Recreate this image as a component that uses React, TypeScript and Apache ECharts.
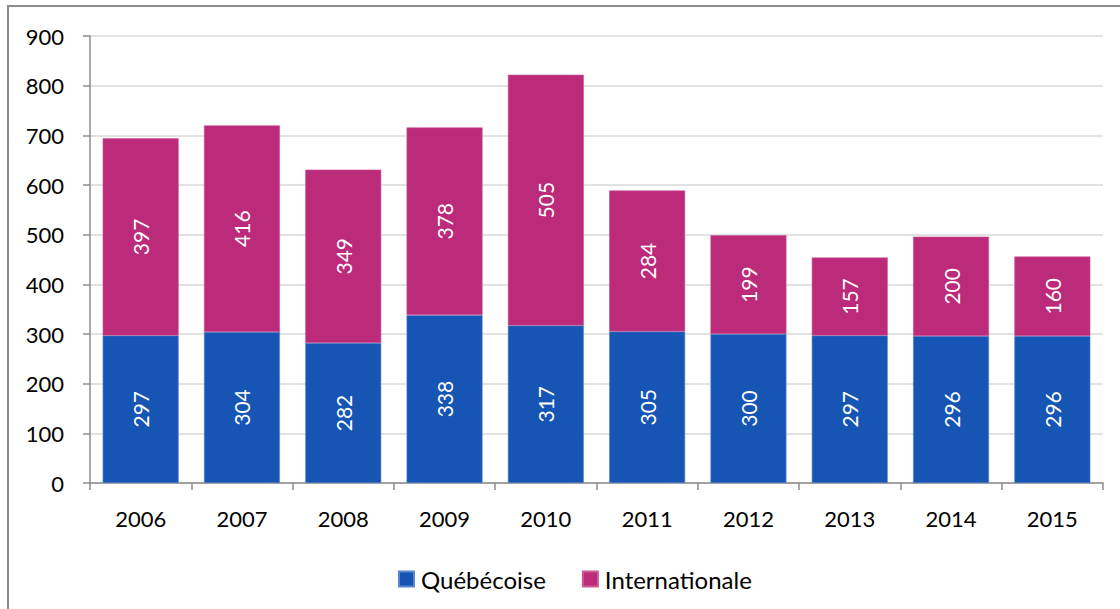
import React, { useEffect, useRef } from "react";
import * as echarts from "echarts";

const years = ["2006", "2007", "2008", "2009", "2010", "2011", "2012", "2013", "2014", "2015"];
const quebecoise = [297, 304, 282, 338, 317, 305, 300, 297, 296, 296];
const internationale = [397, 416, 349, 378, 505, 284, 199, 157, 200, 160];
const yTicks = [0, 100, 200, 300, 400, 500, 600, 700, 800, 900];

const FONT = "Lato, 'Liberation Sans', sans-serif";

export default function App() {
  const ref = useRef<HTMLDivElement>(null);
  useEffect(() => {
    if (!ref.current) return;
    const chart = echarts.init(ref.current, undefined, { renderer: "svg" });
    const labelStyle = {
      show: true,
      rotate: 90,
      position: "inside" as const,
      color: "#ffffff",
      fontSize: 21,
      fontFamily: FONT,
    };
    chart.setOption({
      animation: false,
      textStyle: { fontFamily: FONT },
      graphic: [
        {
          type: "rect",
          shape: { x: 8, y: 6, width: 1200, height: 700 },
          style: { fill: "none", stroke: "#8c8c8c", lineWidth: 2 },
          silent: true,
        },
      ],
      grid: { left: 90, right: 17, top: 36, bottom: 126, containLabel: false },
      legend: {
        data: ["Québécoise", "Internationale"],
        left: 393,
        top: 562,
        icon: "rect",
        itemWidth: 15,
        itemHeight: 15,
        itemGap: 36,
        textStyle: { fontSize: 24, color: "#000", fontFamily: FONT, padding: [0, 0, 0, 2] },
      },
      xAxis: {
        type: "category",
        data: years,
        axisLine: { show: true, lineStyle: { color: "#8c8c8c", width: 1.5 } },
        axisTick: { show: true, alignWithLabel: false, length: 7, lineStyle: { color: "#8c8c8c", width: 1.5 } },
        axisLabel: { color: "#000", fontSize: 22, margin: 24, fontFamily: FONT },
      },
      yAxis: {
        type: "value",
        min: yTicks[0],
        max: yTicks[yTicks.length - 1],
        interval: 100,
        axisLine: { show: true, lineStyle: { color: "#8c8c8c", width: 1.5 } },
        axisTick: { show: true, length: 7, lineStyle: { color: "#8c8c8c", width: 1.5 } },
        axisLabel: { color: "#000", fontSize: 22, margin: 26, fontFamily: FONT },
        splitLine: { show: true, lineStyle: { color: "#d9d9d9", width: 1.5 } },
      },
      series: [
        {
          name: "Québécoise",
          type: "bar",
          stack: "total",
          data: quebecoise,
          barCategoryGap: "25%",
          itemStyle: { color: "#1755b5", borderColor: "#5b86cf", borderWidth: 0.6 },
          label: labelStyle,
        },
        {
          name: "Internationale",
          type: "bar",
          stack: "total",
          data: internationale,
          barCategoryGap: "25%",
          itemStyle: { color: "#bc2a7a", borderColor: "#c95a95", borderWidth: 0.6 },
          label: labelStyle,
        },
      ],
    });
    return () => chart.dispose();
  }, []);
  return (
    <div style={{ position: "fixed", left: 0, top: 0, width: 1120, height: 609, background: "#fff" }}>
      <div ref={ref} style={{ width: 1120, height: 609 }} />
    </div>
  );
}
